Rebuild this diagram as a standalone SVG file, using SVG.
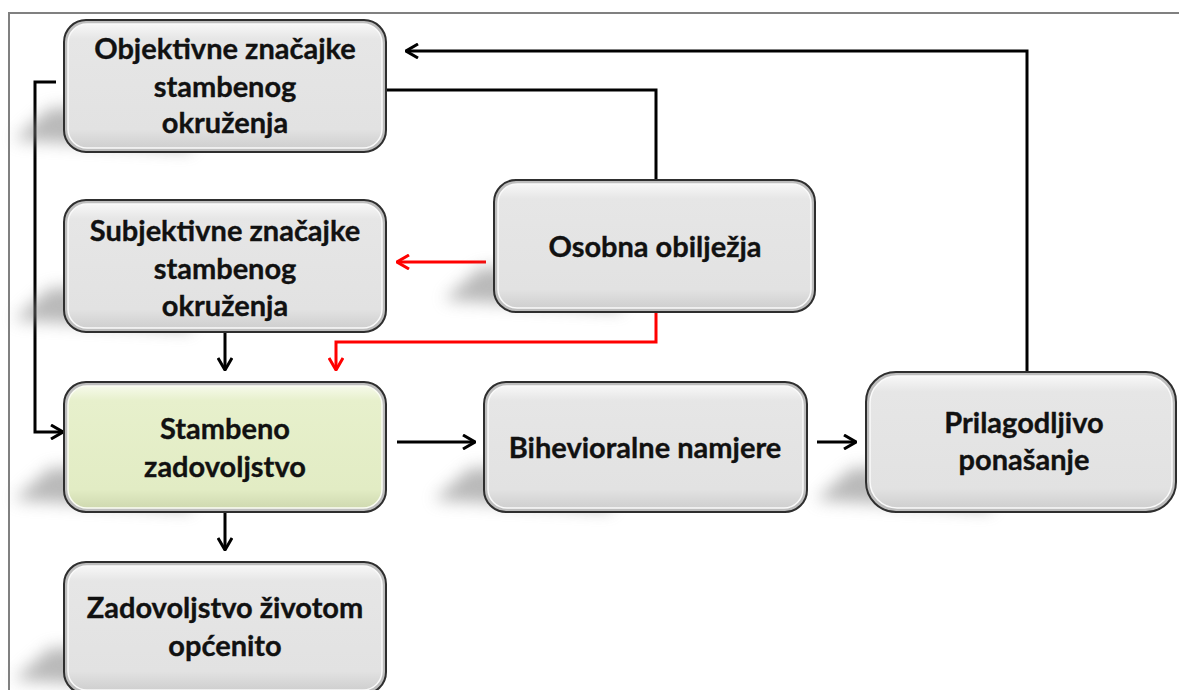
<svg xmlns="http://www.w3.org/2000/svg" width="1179" height="690" viewBox="0 0 1179 690">
<style>
.frame{fill:none;stroke:#808080;stroke-width:2}
.outer{stroke:#2e2e2e;stroke-width:2;fill:#bdbdbd}
.inner{fill:url(#gGray);stroke:#fafafa;stroke-width:1.5}
.innerG{fill:url(#gGreen);stroke:#fbfdf3;stroke-width:1.5}
.shadow{fill:#8a8a8a;opacity:0.6;filter:url(#blur)}
.lbl{font-family:Lato,"Open Sans","Liberation Sans",sans-serif;font-weight:700;font-size:29px;fill:#111;stroke:#111;stroke-width:0.35;text-anchor:middle}
.blk{fill:none;stroke:#000;stroke-width:3}
.red{fill:none;stroke:#ff0000;stroke-width:3}
</style>
<defs>
<linearGradient id="gGray" x1="0" y1="0" x2="0" y2="1">
<stop offset="0" stop-color="#f7f7f7"/>
<stop offset="0.12" stop-color="#e6e6e6"/>
<stop offset="0.85" stop-color="#e2e2e2"/>
<stop offset="1" stop-color="#cfcfcf"/>
</linearGradient>
<linearGradient id="gGreen" x1="0" y1="0" x2="0" y2="1">
<stop offset="0" stop-color="#f6faea"/>
<stop offset="0.12" stop-color="#e7f0cc"/>
<stop offset="0.85" stop-color="#e2ecc4"/>
<stop offset="1" stop-color="#cfd9b0"/>
</linearGradient>
<filter id="blur" x="-50%" y="-50%" width="200%" height="200%"><feGaussianBlur stdDeviation="8"/></filter>
<marker id="ah" viewBox="0 0 14 16" refX="13" refY="8" markerWidth="14" markerHeight="16" markerUnits="userSpaceOnUse" orient="auto">
<path d="M1,1 L13,8 L1,15" fill="none" stroke="#000" stroke-width="3"/>
</marker>
<marker id="ahr" viewBox="0 0 14 16" refX="13" refY="8" markerWidth="14" markerHeight="16" markerUnits="userSpaceOnUse" orient="auto">
<path d="M1,1 L13,8 L1,15" fill="none" stroke="#ff0000" stroke-width="3"/>
</marker>
</defs>
<rect width="1179" height="690" fill="#fff"/>
<rect class="frame" x="9" y="13" width="1400" height="900"/>

<g id="connectors">
<polyline class="blk" points="1027,372 1027,51 406,51" marker-end="url(#ah)"/>
<polyline class="blk" points="387,90 656,90 656,180"/>
<polyline class="blk" points="56,82 35,82 35,432 63,432" marker-end="url(#ah)"/>
<line class="blk" x1="225" y1="333" x2="225" y2="370" marker-end="url(#ah)"/>
<polyline class="red" points="486,262 397,262" marker-end="url(#ahr)"/>
<polyline class="red" points="656,313 656,342 336,342 336,370" marker-end="url(#ahr)"/>
<line class="blk" x1="397" y1="442" x2="475" y2="442" marker-end="url(#ah)"/>
<line class="blk" x1="817" y1="442" x2="856" y2="442" marker-end="url(#ah)"/>
<line class="blk" x1="225" y1="513" x2="225" y2="550" marker-end="url(#ah)"/>
</g>

<g id="n-objektivne">
<polygon class="shadow" points="50,108 200,108 190,150 14,140"/>
<rect class="outer" x="64" y="20" width="322" height="132" rx="22"/>
<rect class="inner" x="68" y="24" width="314" height="124" rx="19"/>
<text class="lbl" x="225" y="59">Objektivne značajke</text>
<text class="lbl" x="225" y="97">stambenog</text>
<text class="lbl" x="225" y="133">okruženja</text>
</g>

<g id="n-subjektivne">
<polygon class="shadow" points="50,288 200,288 190,330 14,320"/>
<rect class="outer" x="64" y="200" width="322" height="132" rx="22"/>
<rect class="inner" x="68" y="204" width="314" height="124" rx="19"/>
<text class="lbl" x="225" y="241">Subjektivne značajke</text>
<text class="lbl" x="225" y="279">stambenog</text>
<text class="lbl" x="225" y="316">okruženja</text>
</g>

<g id="n-osobna">
<polygon class="shadow" points="480,268 630,268 620,310 444,300"/>
<rect class="outer" x="494" y="180" width="321" height="132" rx="22"/>
<rect class="inner" x="498" y="184" width="313" height="124" rx="19"/>
<text class="lbl" x="655" y="257">Osobna obilježja</text>
</g>

<g id="n-stambeno">
<polygon class="shadow" points="50,468 200,468 190,510 14,500"/>
<rect class="outer" x="64" y="382" width="322" height="130" rx="22"/>
<rect class="innerG" x="68" y="386" width="314" height="122" rx="19"/>
<text class="lbl" x="225" y="439">Stambeno</text>
<text class="lbl" x="225" y="477">zadovoljstvo</text>
</g>

<g id="n-bihevioralne">
<polygon class="shadow" points="470,468 620,468 610,510 434,500"/>
<rect class="outer" x="484" y="382" width="323" height="130" rx="22"/>
<rect class="inner" x="488" y="386" width="315" height="122" rx="19"/>
<text class="lbl" x="645" y="458">Bihevioralne namjere</text>
</g>

<g id="n-prilagodljivo">
<polygon class="shadow" points="852,468 1000,468 990,510 816,500"/>
<rect class="outer" x="866" y="372" width="310" height="140" rx="30"/>
<rect class="inner" x="870" y="376" width="302" height="132" rx="27"/>
<text class="lbl" x="1024" y="433">Prilagodljivo</text>
<text class="lbl" x="1024" y="470">ponašanje</text>
</g>

<g id="n-zadovoljstvo">
<polygon class="shadow" points="50,648 200,648 190,690 14,680"/>
<rect class="outer" x="64" y="562" width="322" height="132" rx="22"/>
<rect class="inner" x="68" y="566" width="314" height="124" rx="19"/>
<text class="lbl" x="225" y="618">Zadovoljstvo životom</text>
<text class="lbl" x="225" y="656">općenito</text>
</g>
</svg>
